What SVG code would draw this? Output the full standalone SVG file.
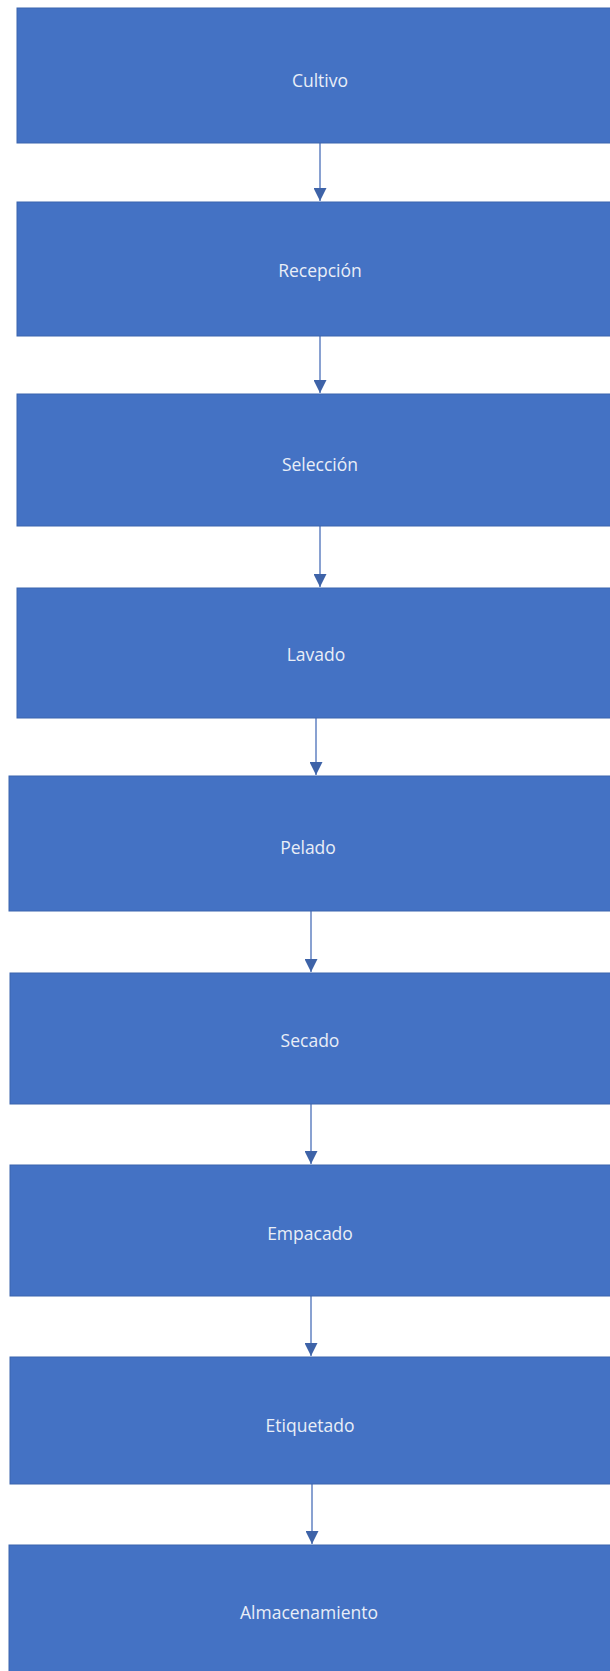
<svg xmlns="http://www.w3.org/2000/svg" width="610" height="1671" viewBox="0 0 610 1671">
<defs>
<style>
.box{fill:#4472c4;stroke:#3a64ae;stroke-width:1}
.lbl{fill:#e9eef7;font-family:"Open Sans","Noto Sans","Liberation Sans",sans-serif;font-size:17.5px;text-anchor:middle;dominant-baseline:central}
.con{stroke:#4a6fb8;stroke-width:1.3;fill:none;marker-end:url(#ah)}
</style>
<marker id="ah" viewBox="0 0 10 10" refX="10" refY="5" markerWidth="13" markerHeight="13" markerUnits="userSpaceOnUse" orient="auto">
<path d="M0,0 L10,5 L0,10 z" fill="#3e63a8"/>
</marker>
</defs>
<rect width="610" height="1671" fill="#ffffff"/>
<g id="connectors">
<line class="con" x1="320" y1="143" x2="320" y2="201"/>
<line class="con" x1="320" y1="336" x2="320" y2="393"/>
<line class="con" x1="320" y1="526" x2="320" y2="587"/>
<line class="con" x1="316" y1="718" x2="316" y2="775"/>
<line class="con" x1="311" y1="911" x2="311" y2="972"/>
<line class="con" x1="311" y1="1104" x2="311" y2="1164"/>
<line class="con" x1="311" y1="1296" x2="311" y2="1356"/>
<line class="con" x1="312" y1="1484" x2="312" y2="1544"/>
</g>
<g id="n1"><rect class="box" x="17" y="8" width="600" height="135"/><text class="lbl" x="320" y="80">Cultivo</text></g>
<g id="n2"><rect class="box" x="17" y="202" width="600" height="134"/><text class="lbl" x="320" y="270">Recepción</text></g>
<g id="n3"><rect class="box" x="17" y="394" width="600" height="132"/><text class="lbl" x="320" y="464">Selección</text></g>
<g id="n4"><rect class="box" x="17" y="588" width="600" height="130"/><text class="lbl" x="316" y="654">Lavado</text></g>
<g id="n5"><rect class="box" x="9" y="776" width="610" height="135"/><text class="lbl" x="308" y="847">Pelado</text></g>
<g id="n6"><rect class="box" x="10" y="973" width="610" height="131"/><text class="lbl" x="310" y="1040">Secado</text></g>
<g id="n7"><rect class="box" x="10" y="1165" width="610" height="131"/><text class="lbl" x="310" y="1233">Empacado</text></g>
<g id="n8"><rect class="box" x="10" y="1357" width="610" height="127"/><text class="lbl" x="310" y="1425">Etiquetado</text></g>
<g id="n9"><rect class="box" x="9" y="1545" width="610" height="140"/><text class="lbl" x="309" y="1612">Almacenamiento</text></g>
</svg>
